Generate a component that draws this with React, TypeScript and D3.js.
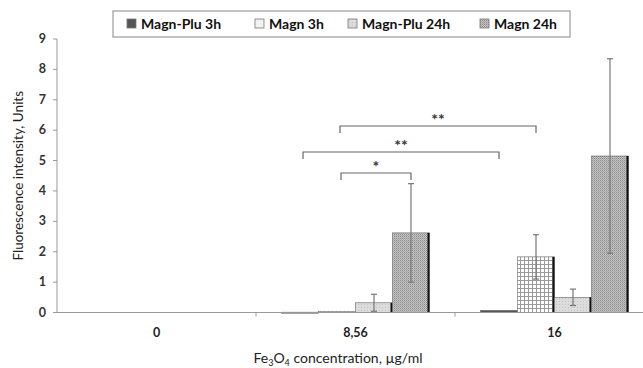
import * as React from 'react';
import * as d3 from 'd3';

const categories = ['0', '8,56', '16'];
const series = ['Magn-Plu 3h', 'Magn 3h', 'Magn-Plu 24h', 'Magn 24h'];
// values[series][category]
const values = [
  [0, 0.01, 0.07],
  [0, 0.03, 1.83],
  [0, 0.32, 0.5],
  [0, 2.62, 5.15],
];
const errors = [
  [0, 0, 0],
  [0, 0, 0.73],
  [0, 0.28, 0.27],
  [0, 1.62, 3.2],
];
const yTicks = [0, 1, 2, 3, 4, 5, 6, 7, 8, 9];
// significance brackets: [seriesIdx, categoryIdx] -> [seriesIdx, categoryIdx]
const brackets = [
  {from: [1, 1], to: [3, 1], label: '*', level: 0},
  {from: [0, 1], to: [0, 2], label: '**', level: 1},
  {from: [1, 1], to: [1, 2], label: '**', level: 2},
];

const fills = ['url(#pDark)', 'url(#pGrid)', 'url(#pLight)', 'url(#pDots)'];
const font = 'Lato, "Open Sans", sans-serif';

export default function App() {
  const width = 643;
  const height = 368;

  const x0 = d3.scaleBand<string>().domain(categories).range([57, 654]).padding(0);
  const x1 = d3.scaleBand<string>().domain(series).range([0, x0.bandwidth()]).paddingOuter(0.69);
  const y = d3.scaleLinear().domain([0, 9]).range([312.5, 39]);
  const bracketY = [173, 152, 126];

  const cx = (s: number, c: number) => (x0(categories[c]) as number) + (x1(series[s]) as number) + x1.bandwidth() / 2;

  return (
    <svg width={width} height={height} style={{position: 'absolute', left: 0, top: 0, background: '#fff'}}>
      <defs>
        <pattern id="pDark" width="4" height="4" patternUnits="userSpaceOnUse">
          <rect width="4" height="4" fill="#555"/>
        </pattern>
        <pattern id="pGrid" width="4" height="4" patternUnits="userSpaceOnUse">
          <rect width="4" height="4" fill="#fff"/>
          <path d="M0,0.5H4M0.5,0V4" stroke="#9a9a9a" strokeWidth="1"/>
        </pattern>
        <pattern id="pLight" width="3" height="3" patternUnits="userSpaceOnUse">
          <rect width="3" height="3" fill="#dcdcdc"/>
          <rect x="1" y="1" width="1" height="1" fill="#c4c4c4"/>
        </pattern>
        <pattern id="pDots" width="2" height="2" patternUnits="userSpaceOnUse">
          <rect width="2" height="2" fill="#c2c2c2"/>
          <rect width="1" height="1" fill="#8c8c8c"/>
          <rect x="1" y="1" width="1" height="1" fill="#a8a8a8"/>
        </pattern>
      </defs>

      {/* legend */}
      <rect x={113} y={11} width={457} height={26} fill="#fff" stroke="#888" strokeWidth={1}/>
      {series.map((s, i) => {
        const lx = [127, 255, 348, 480][i];
        return (
          <g key={s}>
            <rect x={lx} y={19} width={9} height={9} fill={i === 1 ? '#f2f2f2' : fills[i]} stroke="#777" strokeWidth={0.8}/>
            <text x={lx + 14} y={28.5} fontFamily={font} fontWeight="bold" fontSize={14} fill="#111">{s}</text>
          </g>
        );
      })}

      {/* y axis */}
      <line x1={57} x2={57} y1={y(9)} y2={y(0)} stroke="#999"/>
      {yTicks.map(t => (
        <g key={t}>
          <line x1={53} x2={57} y1={y(t)} y2={y(t)} stroke="#999"/>
          <text x={46} y={y(t) + 4} textAnchor="end" fontFamily={font} fontWeight="bold" fontSize={12.5} fill="#333">{t}</text>
        </g>
      ))}
      <text transform={`translate(23,${y(4.5)}) rotate(-90)`} textAnchor="middle" fontFamily={font} fontSize={13.5} fill="#222">
        Fluorescence intensity, Units
      </text>

      {/* bars */}
      {series.map((s, si) => categories.map((c, ci) => {
        const v = values[si][ci];
        if (v <= 0) return null;
        const bx = (x0(c) as number) + (x1(s) as number);
        const top = y(v);
        const h = y(0) - top;
        return (
          <g key={s + c}>
            <rect x={bx} y={top} width={x1.bandwidth()} height={Math.max(h, 1)} fill={fills[si]} stroke="#666" strokeWidth={0.6}/>
            {h > 3 && <line x1={bx + x1.bandwidth() - 1} x2={bx + x1.bandwidth() - 1} y1={top} y2={y(0)} stroke="#111" strokeWidth={2}/>}
          </g>
        );
      }))}

      {/* error bars */}
      {series.map((s, si) => categories.map((c, ci) => {
        const e = errors[si][ci];
        if (e <= 0) return null;
        const v = values[si][ci];
        const ex = cx(si, ci);
        return (
          <g key={'e' + s + c} stroke="#777" strokeWidth={1.2}>
            <line x1={ex} x2={ex} y1={y(v + e)} y2={y(v - e)}/>
            <line x1={ex - 3} x2={ex + 3} y1={y(v + e)} y2={y(v + e)}/>
            <line x1={ex - 3} x2={ex + 3} y1={y(v - e)} y2={y(v - e)}/>
          </g>
        );
      }))}

      {/* x axis */}
      <line x1={57} x2={654} y1={y(0)} y2={y(0)} stroke="#999"/>
      {categories.map((c, i) => (
        <g key={c}>
          {i > 0 && <line x1={x0(c) as number} x2={x0(c) as number} y1={y(0)} y2={y(0) + 4} stroke="#999"/>}
          <text x={(x0(c) as number) + x0.bandwidth() / 2} y={337} textAnchor="middle" fontFamily={font} fontWeight="bold" fontSize={12.5} fill="#222">{c}</text>
        </g>
      ))}
      <text x={338} y={363} textAnchor="middle" fontFamily={font} fontSize={14} fill="#222">
        Fe<tspan fontSize={9} dy={3}>3</tspan><tspan dy={-3}>O</tspan><tspan fontSize={9} dy={3}>4</tspan><tspan dy={-3}> concentration, µg/ml</tspan>
      </text>

      {/* significance brackets */}
      {brackets.map((b, i) => {
        const xa = cx(b.from[0], b.from[1]) + (i === 0 ? 4 : 3);
        const xb = cx(b.to[0], b.to[1]);
        const by = bracketY[b.level];
        return (
          <g key={'b' + i}>
            <path d={`M${xa},${by + 7}V${by}H${xb}V${by + 7}`} fill="none" stroke="#666" strokeWidth={1.2}/>
            <text x={(xa + xb) / 2} y={by - 1} textAnchor="middle" fontFamily={font} fontWeight="bold" fontSize={16} fill="#333">{b.label}</text>
          </g>
        );
      })}
    </svg>
  );
}
